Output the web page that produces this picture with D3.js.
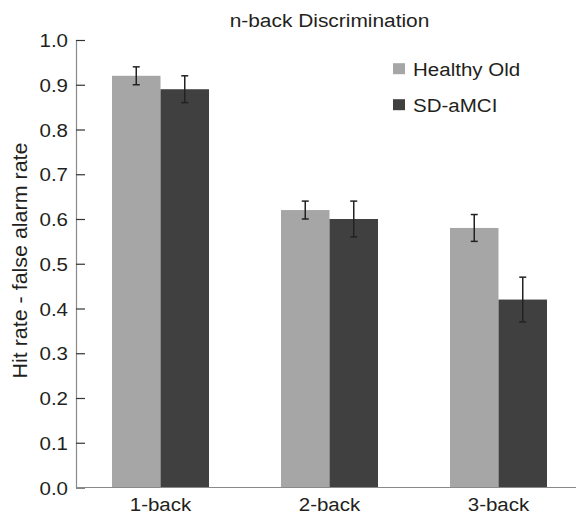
<!DOCTYPE html>
<html><head><meta charset="utf-8">
<script src="https://cdn.jsdelivr.net/npm/d3@7"></script>
<style>body{margin:0;background:#fff}svg{display:block}text{font-family:"Liberation Sans",Arial,sans-serif;fill:#231f20}</style>
</head><body>
<svg id="c" width="576" height="516"></svg>
<script>
const categories = ["1-back", "2-back", "3-back"];
const seriesNames = ["Healthy Old", "SD-aMCI"];
const healthyOld = [0.92, 0.62, 0.58];
const healthyOldErr = [0.02, 0.02, 0.03];
const sdAmci = [0.89, 0.60, 0.42];
const sdAmciErr = [0.03, 0.04, 0.05];
const yTicks = [0.0, 0.1, 0.2, 0.3, 0.4, 0.5, 0.6, 0.7, 0.8, 0.9, 1.0];
const colors = ["#a6a6a6", "#404040"];

(function(){
const series = [
  {name: seriesNames[0], values: healthyOld, errs: healthyOldErr},
  {name: seriesNames[1], values: sdAmci, errs: sdAmciErr}
];
const FS = "19px", SX = 1.08;

const svg = d3.select("#c");
const mLeft = 76, mRight = 583, mTop = 40, mBottom = 487.5;
const x = d3.scaleBand().domain(categories).range([mLeft, mRight]).paddingInner(0).paddingOuter(0);
const x1 = d3.scaleBand().domain(seriesNames).range([0, 97]);
const y = d3.scaleLinear().domain([0, 1]).range([mBottom, mTop]);

series.forEach((s, si) => {
  const g = svg.append("g");
  g.selectAll("rect").data(categories).enter().append("rect")
    .attr("x", (c) => x(c) + x.bandwidth()/2 - 48.5 + x1(s.name))
    .attr("width", x1.bandwidth())
    .attr("y", (c, i) => y(s.values[i]))
    .attr("height", (c, i) => y(0) - y(s.values[i]))
    .attr("fill", colors[si]);
});
series.forEach((s, si) => {
  categories.forEach((c, i) => {
    const cx = x(c) + x.bandwidth()/2 - 48.5 + x1(s.name) + x1.bandwidth()/2;
    const hi = y(s.values[i] + s.errs[i]), lo = y(s.values[i] - s.errs[i]);
    const g = svg.append("g").attr("stroke", "#222").attr("stroke-width", 1.5);
    g.append("line").attr("x1", cx).attr("x2", cx).attr("y1", hi).attr("y2", lo);
    g.append("line").attr("x1", cx-3.5).attr("x2", cx+3.5).attr("y1", hi).attr("y2", hi);
    g.append("line").attr("x1", cx-3.5).attr("x2", cx+3.5).attr("y1", lo).attr("y2", lo);
  });
});

const yAxis = d3.axisRight(y).tickValues(yTicks).tickFormat(d3.format(".1f")).tickSize(9).tickSizeOuter(0);
const ya = svg.append("g").attr("transform", `translate(${mLeft},0)`).call(yAxis);
ya.select(".domain").attr("stroke", "#8a8a8a").attr("stroke-width", 1.2);
ya.selectAll(".tick line").attr("stroke", "#333").attr("stroke-width", 1.2);
ya.selectAll(".tick text").attr("x", 0).attr("text-anchor", "end").attr("dy", "0.35em")
  .attr("transform", `translate(-8,0) scale(${SX},1)`)
  .style("font-size", FS).attr("fill", "#231f20");

svg.append("line").attr("x1", mLeft).attr("x2", 576).attr("y1", mBottom).attr("y2", mBottom)
  .attr("stroke", "#8a8a8a").attr("stroke-width", 1.2);
const xa = svg.append("g").attr("transform", `translate(0,${mBottom})`)
  .call(d3.axisBottom(x).tickSize(0));
xa.select(".domain").remove();
xa.selectAll(".tick text").attr("dy", "0").attr("y", 0)
  .attr("transform", `translate(0,23) scale(${SX},1)`)
  .style("font-size", FS).attr("fill", "#231f20");

svg.append("text").attr("transform", `translate(329.5,26.5) scale(1.1,1)`).attr("text-anchor", "middle")
  .style("font-size", FS).text("n-back Discrimination");
svg.append("text").attr("transform", `translate(26.5,260.5) rotate(-90) scale(1.1,1)`).attr("text-anchor", "middle")
  .style("font-size", "19.5px").text("Hit rate - false alarm rate");

series.forEach((s, si) => {
  const ly = 75.7 + si * 36;
  svg.append("rect").attr("x", 393).attr("y", ly - 12.5).attr("width", 12).attr("height", 11).attr("fill", colors[si]);
  svg.append("text").attr("transform", `translate(413,${ly}) scale(${SX},1)`).style("font-size", FS).text(s.name);
});
})();
</script>
</body></html>
